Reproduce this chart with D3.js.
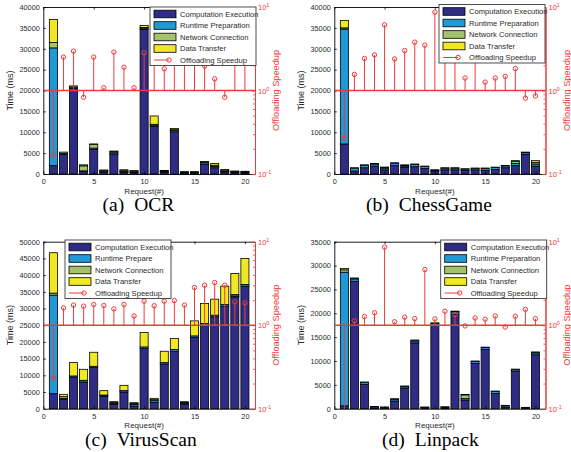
<!DOCTYPE html>
<html>
<head>
<meta charset="utf-8">
<script src="https://cdn.jsdelivr.net/npm/d3@7/dist/d3.min.js"></script>
<style>
  body { margin: 0; background: #fff; }
  svg { display: block; font-family: "Liberation Sans", Arial, Helvetica, sans-serif; }
</style>
</head>
<body>
<svg id="fig" width="571" height="452"></svg>
<script>
// Request index on the x axis
const requestIds = [1, 2, 3, 4, 5, 6, 7, 8, 9, 10, 11, 12, 13, 14, 15, 16, 17, 18, 19, 20];
const requestTicks = [0, 5, 10, 15, 20];

// Stacked time components (ms)
const componentKeys = ["compute", "runtime", "network", "transfer"];

// OCR
const ocrCompute  = [2000, 4700, 20500, 600, 5900, 500, 4800, 400, 300, 34600, 11400, 400, 10100, 200, 200, 2400, 1500, 500, 300, 250];
const ocrRuntime  = [28200, 250, 300, 150, 300, 100, 300, 200, 200, 300, 300, 200, 300, 200, 200, 400, 300, 200, 200, 200];
const ocrNetwork  = [1300, 300, 300, 1200, 900, 300, 300, 300, 250, 200, 200, 150, 200, 100, 100, 100, 300, 100, 150, 150];
const ocrTransfer = [5500, 0, 0, 250, 100, 50, 100, 100, 50, 500, 2000, 100, 300, 50, 50, 50, 400, 300, 50, 50];
const ocrSpeedup  = [0.167, 2.51, 2.96, 0.83, 2.51, 1.08, 2.88, 1.90, 1.08, 2.83, 2.6, 1.82, 2.3, 3.1, 2.4, 1.96, 1.38, 0.83, 2.7, 2.4];

// ChessGame
const chessCompute  = [7200, 700, 1500, 1900, 1000, 2000, 1600, 1750, 1300, 700, 1000, 1000, 900, 1000, 900, 1100, 1500, 2000, 4700, 1900];
const chessRuntime  = [27500, 700, 600, 500, 400, 500, 300, 500, 500, 250, 400, 400, 300, 350, 450, 450, 450, 500, 400, 500];
const chessNetwork  = [300, 100, 100, 100, 200, 200, 100, 150, 100, 50, 100, 100, 50, 80, 80, 100, 100, 550, 150, 400];
const chessTransfer = [1800, 0, 0, 0, 50, 0, 200, 0, 0, 0, 0, 0, 0, 0, 0, 0, 0, 150, 0, 400];
const chessSpeedup  = [0.269, 1.56, 2.42, 2.67, 6.11, 2.39, 3.01, 3.79, 3.49, 8.67, 3.0, 2.6, 1.41, 4.0, 1.26, 1.41, 1.48, 1.83, 0.81, 0.86];

// VirusScan
const virusCompute  = [4500, 2800, 9400, 8000, 12300, 3800, 1300, 5000, 800, 18000, 1900, 13400, 17200, 1400, 21300, 25000, 27500, 30700, 33500, 36700];
const virusRuntime  = [29500, 300, 400, 500, 400, 300, 300, 400, 500, 500, 500, 400, 500, 300, 500, 500, 500, 500, 300, 500];
const virusNetwork  = [600, 500, 0, 0, 0, 0, 300, 0, 300, 0, 300, 0, 0, 200, 0, 0, 0, 0, 400, 0];
const virusTransfer = [12100, 700, 4000, 3300, 4200, 1300, 200, 1600, 200, 4300, 400, 3400, 3300, 200, 4500, 6000, 4800, 5500, 6300, 7800];
const virusSpeedup  = [0.23, 1.61, 1.74, 1.69, 1.77, 1.72, 1.57, 1.77, 1.29, 1.94, 1.71, 1.94, 1.97, 1.74, 2.83, 3.01, 3.24, 3.01, 1.90, 1.85];

// Linpack
const linpackCompute  = [600, 26700, 5100, 150, 100, 1600, 4300, 13800, 150, 17500, 150, 19800, 1800, 9500, 12400, 3200, 300, 7900, 100, 11300];
const linpackRuntime  = [28000, 500, 400, 250, 200, 300, 300, 400, 150, 400, 200, 500, 300, 400, 400, 400, 300, 300, 150, 400];
const linpackNetwork  = [500, 200, 100, 50, 50, 200, 100, 200, 50, 100, 50, 150, 800, 100, 100, 100, 100, 100, 30, 100];
const linpackTransfer = [300, 0, 0, 0, 0, 0, 50, 0, 0, 0, 0, 0, 100, 0, 0, 0, 0, 0, 0, 100];
const linpackSpeedup  = [0.08, 1.13, 1.27, 1.41, 8.59, 1.10, 1.25, 1.20, 4.64, 1.19, 1.47, 1.34, 0.98, 1.22, 1.18, 1.29, 0.95, 1.28, 1.55, 1.20];

// Axis ticks
const timeTicks40k = [0, 5000, 10000, 15000, 20000, 25000, 30000, 35000, 40000];
const timeTicks50k = [0, 5000, 10000, 15000, 20000, 25000, 30000, 35000, 40000, 45000, 50000];
const timeTicks35k = [0, 5000, 10000, 15000, 20000, 25000, 30000, 35000];
const speedupMajor = [0.1, 1, 10];
const speedupExponents = ["-1", "0", "1"];
const speedupMinor = [0.2, 0.3, 0.4, 0.5, 0.6, 0.7, 0.8, 0.9, 2, 3, 4, 5, 6, 7, 8, 9];

// Legend texts
const legendNamesStd = ["Computation Execution", "Runtime Preparation", "Network Connection", "Data Transfer", "Offloading Speedup"];
const legendNamesVirus = ["Computation Execution", "Runtime Prepare", "Network Connection", "Data Transfer", "Offloading Speedup"];

// Styling
const componentColors = { compute: "#2f2c85", runtime: "#1f9ad6", network: "#a4c36c", transfer: "#efe822" };
const red = "#f03a3a";
const textGray = "#2a2a2a";

const panels = [
  { tag: "(a)", name: "OCR", compute: ocrCompute, runtime: ocrRuntime, network: ocrNetwork, transfer: ocrTransfer,
    speedup: ocrSpeedup, timeTicks: timeTicks40k, legendNames: legendNamesStd,
    box: { x0: 43.3, x1: 255, y0: 7, y1: 174 }, legend: { x: 150, y: 7 }, caption: { x: 102.5, y: 211 } },
  { tag: "(b)", name: "ChessGame", compute: chessCompute, runtime: chessRuntime, network: chessNetwork, transfer: chessTransfer,
    speedup: chessSpeedup, timeTicks: timeTicks40k, legendNames: legendNamesStd,
    box: { x0: 334.3, x1: 545.5, y0: 7, y1: 174 }, legend: { x: 439, y: 4.5 }, caption: { x: 366, y: 211 } },
  { tag: "(c)", name: "VirusScan", compute: virusCompute, runtime: virusRuntime, network: virusNetwork, transfer: virusTransfer,
    speedup: virusSpeedup, timeTicks: timeTicks50k, legendNames: legendNamesVirus,
    box: { x0: 43.3, x1: 255, y0: 241.7, y1: 408.7 }, legend: { x: 65, y: 240 }, caption: { x: 85, y: 446 } },
  { tag: "(d)", name: "Linpack", compute: linpackCompute, runtime: linpackRuntime, network: linpackNetwork, transfer: linpackTransfer,
    speedup: linpackSpeedup, timeTicks: timeTicks35k, legendNames: legendNamesStd,
    box: { x0: 334.3, x1: 545.5, y0: 241.7, y1: 408.7 }, legend: { x: 440.7, y: 240 }, caption: { x: 382, y: 446 } }
];

const svg = d3.select("#fig");
const fmtInt = d3.format("d");

panels.forEach((p, idx) => drawPanel(p, idx));

function drawPanel(p, idx) {
  const b = p.box;
  const g = svg.append("g");
  const x = d3.scaleLinear().domain([0, 21]).range([b.x0, b.x1]);
  const y = d3.scaleLinear().domain([0, p.timeTicks[p.timeTicks.length - 1]]).range([b.y1, b.y0]);
  const s = d3.scaleLog().domain([0.1, 10]).range([b.y1, b.y0]);

  const rows = requestIds.map((r, i) => ({
    request: r, compute: p.compute[i], runtime: p.runtime[i], network: p.network[i], transfer: p.transfer[i]
  }));
  const series = d3.stack().keys(componentKeys)(rows);
  const barW = x(0.8) - x(0);

  // stacked bars
  g.append("g").selectAll("g").data(series).join("g")
    .attr("fill", d => componentColors[d.key])
    .selectAll("rect").data(d => d).join("rect")
    .attr("x", d => x(d.data.request) - barW / 2)
    .attr("width", barW)
    .attr("y", d => y(d[1]))
    .attr("height", d => Math.max(0, y(d[0]) - y(d[1])))
    .attr("stroke", "#000")
    .attr("stroke-width", 0.8);

  // left axis
  const axL = g.append("g").attr("transform", `translate(${b.x0},0)`)
    .call(d3.axisLeft(y).tickValues(p.timeTicks).tickFormat(fmtInt).tickSizeInner(-2.5).tickSizeOuter(0).tickPadding(3.5));
  // bottom axis
  const axB = g.append("g").attr("transform", `translate(0,${b.y1})`)
    .call(d3.axisBottom(x).tickValues(requestTicks).tickFormat(fmtInt).tickSizeInner(-2.5).tickSizeOuter(0).tickPadding(5));
  // top border with mirrored ticks
  const axT = g.append("g").attr("transform", `translate(0,${b.y0})`)
    .call(d3.axisTop(x).tickValues(requestTicks).tickSizeInner(-2.5).tickSizeOuter(0).tickFormat(() => ""));
  [axL, axB, axT].forEach(a => {
    a.select(".domain").attr("stroke", "#000").attr("stroke-width", 0.9);
    a.selectAll(".tick line").attr("stroke", "#000").attr("stroke-width", 0.8);
    a.selectAll(".tick text").attr("font-size", "7.3px").attr("fill", textGray)
      .attr("font-family", '"Liberation Sans", Arial, sans-serif');
  });

  // speedup stems, clipped to plot area
  const clipId = "clip" + idx;
  g.append("clipPath").attr("id", clipId).append("rect")
    .attr("x", b.x0).attr("y", b.y0).attr("width", b.x1 - b.x0).attr("height", b.y1 - b.y0);
  const sg = g.append("g").attr("clip-path", `url(#${clipId})`);
  sg.selectAll("line.stem").data(p.speedup).join("line").attr("class", "stem")
    .attr("x1", (d, i) => x(requestIds[i])).attr("x2", (d, i) => x(requestIds[i]))
    .attr("y1", s(1)).attr("y2", d => s(d))
    .attr("stroke", red).attr("stroke-width", 1);
  sg.append("line")
    .attr("x1", b.x0).attr("x2", b.x1).attr("y1", s(1)).attr("y2", s(1))
    .attr("stroke", red).attr("stroke-width", 1.4);
  sg.selectAll("circle").data(p.speedup).join("circle")
    .attr("cx", (d, i) => x(requestIds[i])).attr("cy", d => s(d)).attr("r", 2.2)
    .attr("fill", "none").attr("stroke", red).attr("stroke-width", 1);

  // right (log) axis
  const axR = g.append("g").attr("transform", `translate(${b.x1},0)`)
    .call(d3.axisRight(s).tickValues(speedupMajor).tickSizeInner(-3.5).tickSizeOuter(0).tickFormat(() => ""));
  const axRm = g.append("g").attr("transform", `translate(${b.x1},0)`)
    .call(d3.axisRight(s).tickValues(speedupMinor).tickSizeInner(-2).tickSizeOuter(0).tickFormat(() => ""));
  [axR, axRm].forEach(a => {
    a.select(".domain").attr("stroke", red).attr("stroke-width", 1);
    a.selectAll(".tick line").attr("stroke", red).attr("stroke-width", 0.8);
  });
  speedupMajor.forEach((v, i) => {
    const t = g.append("text").attr("x", b.x1 + 3).attr("y", s(v) + 3)
      .attr("font-size", "7.5px").attr("fill", red).text("10");
    t.append("tspan").attr("dy", -3).attr("font-size", "5.5px").text(speedupExponents[i]);
  });

  // axis titles
  const yMid = (b.y0 + b.y1) / 2;
  g.append("text")
    .attr("transform", `translate(${b.x0 - 30},${yMid}) rotate(-90)`)
    .attr("text-anchor", "middle").attr("font-size", "9px").attr("fill", textGray)
    .text("Time (ms)");
  g.append("text")
    .attr("transform", `translate(${b.x1 + 24},${yMid}) rotate(-90)`)
    .attr("text-anchor", "middle").attr("font-size", "9.2px").attr("fill", red)
    .text("Offloading Speedup");
  g.append("text")
    .attr("x", (b.x0 + b.x1) / 2 - 5).attr("y", b.y1 + 19.5)
    .attr("text-anchor", "middle").attr("font-size", "8px").attr("fill", textGray)
    .text("Request(#)");

  // caption
  const cap = g.append("text").attr("x", p.caption.x).attr("y", p.caption.y)
    .attr("font-family", '"Liberation Serif", "Times New Roman", serif')
    .attr("font-size", "19.5px").attr("fill", "#000").text(p.tag);
  cap.append("tspan").attr("dx", 10).text(p.name);

  // legend
  const L = p.legend;
  const lg = g.append("g");
  lg.append("rect").attr("x", L.x).attr("y", L.y).attr("width", 106).attr("height", 58.5)
    .attr("fill", "#fff").attr("stroke", "#3a3a3a").attr("stroke-width", 0.9);
  p.legendNames.forEach((name, i) => {
    const ry = L.y + 7 + i * 11.5;
    if (i < componentKeys.length) {
      lg.append("rect").attr("x", L.x + 4).attr("y", ry - 3.8).attr("width", 22).attr("height", 7.6)
        .attr("fill", componentColors[componentKeys[i]]).attr("stroke", "#000").attr("stroke-width", 0.8);
    } else {
      lg.append("line").attr("x1", L.x + 4).attr("x2", L.x + 19).attr("y1", ry).attr("y2", ry)
        .attr("stroke", red).attr("stroke-width", 1);
      lg.append("circle").attr("cx", L.x + 19).attr("cy", ry).attr("r", 2.2)
        .attr("fill", "none").attr("stroke", red).attr("stroke-width", 1);
    }
    lg.append("text").attr("x", L.x + 30).attr("y", ry + 2.7)
      .attr("font-size", "7.6px").attr("fill", textGray).text(name);
  });
}
</script>
</body>
</html>
